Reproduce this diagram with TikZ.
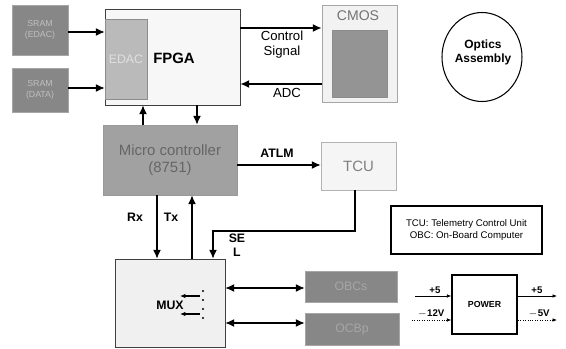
\documentclass[tikz,border=0pt]{standalone}
\usepackage{fontspec}
\setmainfont{Liberation Sans}
\usetikzlibrary{positioning,arrows.meta,shapes.geometric}

\tikzset{
  darkbox/.style={draw=black!35, fill=black!47, text=black!25, font=\fontsize{5}{6}\selectfont, align=center, inner sep=0pt},
  lightbox/.style={draw=black!75, fill=black!4, inner sep=0pt},
  lbl/.style={font=\fontsize{7}{8}\selectfont\bfseries, inner sep=1pt},
  link/.style={-{Latex[length=5pt,width=4.5pt]}, semithick},
  both/.style={{Latex[length=5pt,width=4.5pt]}-{Latex[length=5pt,width=4.5pt]}, semithick},
  pw/.style={-{Latex[length=2.5pt,width=2pt]}, thin},
}

\begin{document}
\begin{tikzpicture}[x=0.02cm, y=-0.02cm]
  \useasboundingbox (0,0) rectangle (566,349);

  % SRAM
  \node[darkbox, minimum width=1.12cm, minimum height=1cm] (sramE) at (40,30) {SRAM\\(EDAC)};
  \node[darkbox, minimum width=1.12cm, minimum height=0.88cm] (sramD) at (40,90) {SRAM\\(DATA)};

  % FPGA
  \node[lightbox, fill=black!3, minimum width=2.7cm, minimum height=1.92cm] (fpga) at (172.5,57) {};
  \node[draw=black!45, fill=black!27, text=black!12, font=\fontsize{7}{8}\selectfont,
        minimum width=0.84cm, minimum height=1.6cm, inner sep=0pt] (edac) at (126,59) {EDAC};
  \node[font=\fontsize{8.5}{10}\selectfont\bfseries] (fpgaT) at (174,58) {FPGA};
  \draw[link] (sramE.east |- 0,32) -- (edac.west |- 0,32);
  \draw[link] (sramD.east |- 0,88) -- (edac.west |- 0,88);

  % CMOS
  \node[draw=black!35, fill=black!5, minimum width=1.5cm, minimum height=1.94cm, inner sep=0pt] (cmos) at (359.5,53.5) {};
  \node[draw=black!45, fill=black!42, minimum width=1.1cm, minimum height=1.34cm, inner sep=0pt] (ccd) at (359.5,63.5) {};
  \node[font=\fontsize{8}{9}\selectfont, text=black!55] (cmosT) at (358,16) {CMOS};
  \draw[link, thick] (fpga.east |- 0,28) -- (cmos.west |- 0,28);
  \draw[link, thick] (cmos.west |- 0,84) -- (fpga.east |- 0,84);
  \node[font=\fontsize{7.5}{8.5}\selectfont, align=center] (ctrl) at (282,45) {Control\\Signal};
  \node[font=\fontsize{7.5}{8.5}\selectfont] (adc) at (287,93) {ADC};

  % Optique
  \node[draw, semithick, ellipse, minimum width=1.6cm, minimum height=1.78cm, inner sep=0pt] (optics) at (482,57) {};
  \node[font=\fontsize{6.8}{8}\selectfont\bfseries, align=center] (opticsT) at (483,52) {Optics\\Assembly};

  % Micro controller
  \node[draw=black!40, fill=black!37, text=black!60, font=\fontsize{8.5}{10}\selectfont, align=center,
        minimum width=2.68cm, minimum height=1.4cm, inner sep=0pt] (mcu) at (170,160) {Micro controller\\(8751)};
  \draw[link] (mcu.north -| 143,0) -- (fpga.south -| 143,0);
  \draw[link] (fpga.south -| 197,0) -- (mcu.north -| 197,0);

  % TCU
  \node[draw=black!30, fill=black!4, text=black!50, font=\fontsize{8.5}{10}\selectfont,
        minimum width=1.5cm, minimum height=0.96cm, inner sep=0pt] (tcu) at (358.5,166) {TCU};
  \draw[link] (mcu.east |- 0,165) -- (tcu.west |- 0,165);
  \node[lbl] (atlm) at (277,153) {ATLM};

  % MUX
  \node[lightbox, fill=black!6, minimum width=2.2cm, minimum height=1.76cm] (mux) at (170,303) {};
  \node[font=\fontsize{7}{8}\selectfont\bfseries] (muxT) at (170,305) {MUX};
  \foreach \y in {291,300,309,318} {
    \fill (203,\y) circle (1.2);
  }
  \foreach \y in {296,314} {
    \draw[-{Latex[length=3pt,width=2.5pt]}, semithick] (200,\y) -- (180,\y);
  }
  \draw[link] (mcu.south -| 157,0) -- (mux.north -| 157,0);
  \draw[link] (mux.north -| 192,0) -- (mcu.south -| 192,0);
  \node[lbl] (rx) at (135,217) {Rx};
  \node[lbl] (tx) at (171,217) {Tx};
  \coordinate (selA) at (355,231);
  \coordinate (selB) at (213,231);
  \draw[link, semithick] (tcu.south -| selA) -- (selA) -- (selB) -- (mux.north -| selB);
  \node[lbl, align=center] (sel) at (237,245) {SE\\L};

  % OBC
  \node[darkbox, font=\fontsize{7}{8}\selectfont, text=black!35, minimum width=1.84cm, minimum height=0.62cm] (obcs) at (351,286.5) {OBCs};
  \node[darkbox, font=\fontsize{7}{8}\selectfont, text=black!35, minimum width=1.88cm, minimum height=0.64cm] (ocbp) at (352,329) {OCBp};
  \draw[both] (mux.east |- 0,288) -- (obcs.west |- 0,288);
  \draw[both] (mux.east |- 0,323) -- (ocbp.west |- 0,323);

  % Legende
  \node[draw, thick, font=\fontsize{5.5}{7}\selectfont, align=center,
        minimum width=3.02cm, minimum height=0.96cm, inner sep=0pt] (legend) at (466.5,230)
        {TCU: Telemetry Control Unit\\OBC: On-Board Computer};

  % Alimentation
  \node[draw, thick, font=\fontsize{5}{6}\selectfont\bfseries, minimum width=1.3cm, minimum height=1.18cm,
        inner sep=0pt] (power) at (484.5,304.5) {POWER};
  \coordinate (inA) at (415,296);
  \coordinate (inB) at (412,320);
  \coordinate (outA) at (557,296);
  \coordinate (outB) at (557,320);
  \draw[pw] (inA) -- (power.west |- inA);
  \draw[pw, densely dotted] (inB) -- (power.west |- inB);
  \draw[pw] (power.east |- outA) -- (outA);
  \draw[pw, densely dotted] (power.east |- outB) -- (outB);
  \node[font=\fontsize{5.5}{6}\selectfont\bfseries] (pA) at (435,290) {+5};
  \node[font=\fontsize{5.5}{6}\selectfont\bfseries] (pB) at (431,314) {$-$12V};
  \node[font=\fontsize{5.5}{6}\selectfont\bfseries] (pC) at (537,290) {+5};
  \node[font=\fontsize{5.5}{6}\selectfont\bfseries] (pD) at (539,314) {$-$5V};
\end{tikzpicture}
\end{document}
